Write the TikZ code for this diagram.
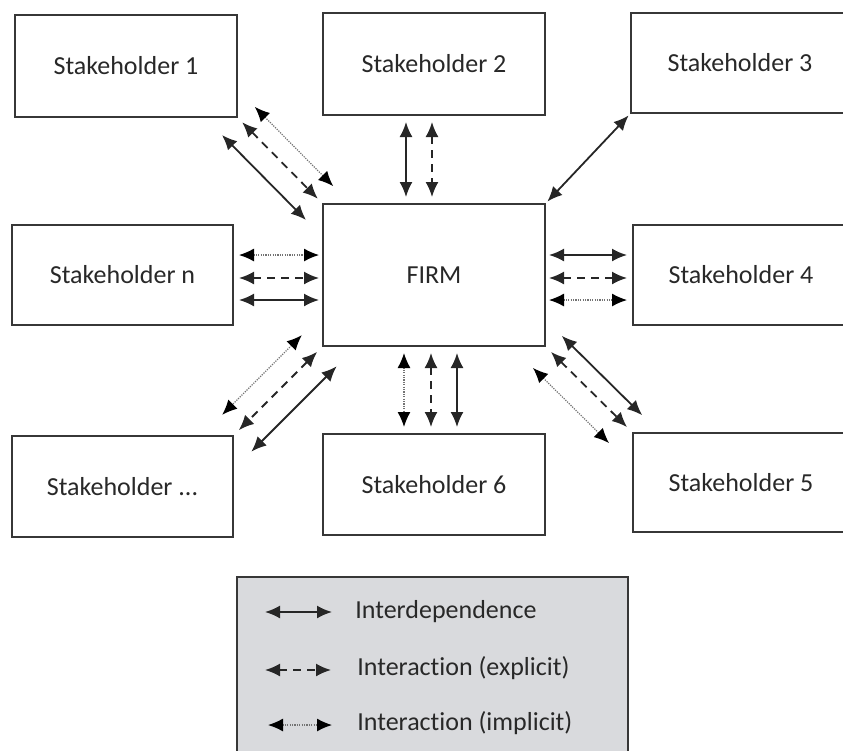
\documentclass[tikz,border=0pt]{standalone}
\usepackage{fontspec}
\setmainfont{Carlito}[Ligatures=NoCommon]
\usetikzlibrary{arrows.meta}
\definecolor{legendgray}{RGB}{217,218,221}
\definecolor{boxline}{RGB}{55,55,55}
\definecolor{textgray}{RGB}{40,40,40}

\begin{document}
\begin{tikzpicture}[x=0.5pt,y=-0.5pt,>={Latex[length=7.5pt,width=6.5pt]},
  holder/.style={draw=boxline,line width=1pt,minimum width=111pt,minimum height=51pt,inner sep=0pt,
    text=textgray,font=\fontsize{13pt}{15pt}\selectfont},
  legendbox/.style={draw=boxline,fill=legendgray,line width=1pt,minimum width=195.5pt,minimum height=89pt},
  legtext/.style={anchor=west,inner sep=0pt,text=textgray,font=\fontsize{13pt}{15pt}\selectfont},
  interdep/.style={<->,line width=0.9pt,draw=black!85},
  explicit/.style={<->,line width=0.9pt,draw=black!85,dash pattern=on 4pt off 3pt},
  implicit/.style={>={Latex[length=7.5pt,width=6.5pt,color=black]},<->,line width=0.6pt,draw=black!55,
    dash pattern=on 0.6pt off 0.6pt}]
  \useasboundingbox (0,0) rectangle (843,751);

  % stakeholders round the firm
  \node[holder] (s1) at (126,66) {Stakeholder 1};
  \node[holder] (s2) at (434,64) {Stakeholder 2};
  \node[holder,minimum width=109pt,minimum height=50pt] (s3) at (740,63) {Stakeholder 3};
  \node[holder,minimum height=71pt] (firm) at (434,275) {FIRM};
  \node[holder,minimum width=110.5pt,minimum height=50pt] (sn) at (122.5,275) {Stakeholder n};
  \node[holder,minimum width=108pt,minimum height=50pt] (s4) at (741,275) {Stakeholder 4};
  \node[holder,minimum width=110.5pt,minimum height=50.5pt] (sdots) at (122.5,486.5) {Stakeholder ...};
  \node[holder,minimum height=50.5pt] (s6) at (434,484.5) {Stakeholder 6};
  \node[holder,minimum width=108pt,minimum height=49.5pt] (s5) at (741,482.5) {Stakeholder 5};

  % top left
  \draw[interdep] ([shift={(-16,17)}]s1.south east) -- ([shift={(-16,17)}]firm.north west);
  \draw[explicit,shorten <=3pt,shorten >=3pt] (s1.south east) -- (firm.north west);
  \draw[implicit,shorten <=2pt,shorten >=2pt] ([shift={(14,-14)}]s1.south east) -- ([shift={(14,-14)}]firm.north west);
  % top
  \draw[interdep,shorten <=3pt,shorten >=3pt] ([xshift=-14pt]s2.south) -- ([xshift=-14pt]firm.north);
  \draw[explicit,shorten <=3pt,shorten >=3pt] ([xshift=-1pt]s2.south) -- ([xshift=-1pt]firm.north);
  % top right
  \draw[interdep,shorten <=1pt,shorten >=1pt] (s3.south west) -- (firm.north east);
  % left
  \draw[implicit,shorten <=2.5pt,shorten >=1.5pt] ([yshift=10pt]sn.east) -- ([yshift=10pt]firm.west);
  \draw[explicit,shorten <=2.5pt,shorten >=1.5pt] ([yshift=-1.5pt]sn.east) -- ([yshift=-1.5pt]firm.west);
  \draw[interdep,shorten <=2.5pt,shorten >=1.5pt] ([yshift=-12.5pt]sn.east) -- ([yshift=-12.5pt]firm.west);
  % right
  \draw[interdep,shorten <=1.5pt,shorten >=2.5pt] ([yshift=10pt]firm.east) -- ([yshift=10pt]s4.west);
  \draw[explicit,shorten <=1.5pt,shorten >=2.5pt] ([yshift=-1.5pt]firm.east) -- ([yshift=-1.5pt]s4.west);
  \draw[implicit,shorten <=1.5pt,shorten >=2.5pt] ([yshift=-12.5pt]firm.east) -- ([yshift=-12.5pt]s4.west);
  % bottom
  \draw[implicit,shorten <=3pt,shorten >=3pt] ([xshift=-15pt]firm.south) -- ([xshift=-15pt]s6.north);
  \draw[explicit,shorten <=3pt,shorten >=3pt] ([xshift=-1.5pt]firm.south) -- ([xshift=-1.5pt]s6.north);
  \draw[interdep,shorten <=3pt,shorten >=3pt] ([xshift=11.5pt]firm.south) -- ([xshift=11.5pt]s6.north);
  % bottom left
  \draw[implicit,shorten <=3pt,shorten >=3pt] ([shift={(-16,-16)}]firm.south west) -- ([shift={(-16,-16)}]sdots.north east);
  \draw[explicit,shorten <=3.5pt,shorten >=3.5pt] (firm.south west) -- (sdots.north east);
  \draw[interdep,shorten <=1pt,shorten >=1pt] ([shift={(16,18)}]firm.south west) -- ([shift={(16,18)}]sdots.north east);
  % bottom right
  \draw[interdep,shorten <=2pt,shorten >=2pt] ([shift={(13,-14)}]firm.south east) -- ([shift={(13,-14)}]s5.north west);
  \draw[explicit,shorten <=3.5pt,shorten >=3.5pt] (firm.south east) -- (s5.north west);
  \draw[implicit,shorten <=3.5pt,shorten >=3.5pt] ([shift={(-18,16)}]firm.south east) -- ([shift={(-18,16)}]s5.north west);

  % legend
  \node[legendbox] (legend) at (432.5,666) {};
  \node[legtext] (lg1) at (355,612) {Interdependence};
  \node[legtext] (lg2) at (357,668) {Interaction (explicit)};
  \node[legtext] (lg3) at (357,723) {Interaction (implicit)};
  \draw[interdep] ([xshift=-45pt]lg1.west) -- ([xshift=-11.5pt]lg1.west);
  \draw[explicit] ([xshift=-46pt,yshift=-1pt]lg2.west) -- ([xshift=-13pt,yshift=-1pt]lg2.west);
  \draw[implicit] ([xshift=-44.5pt,yshift=-1pt]lg3.west) -- ([xshift=-12.5pt,yshift=-1pt]lg3.west);
\end{tikzpicture}
\end{document}
